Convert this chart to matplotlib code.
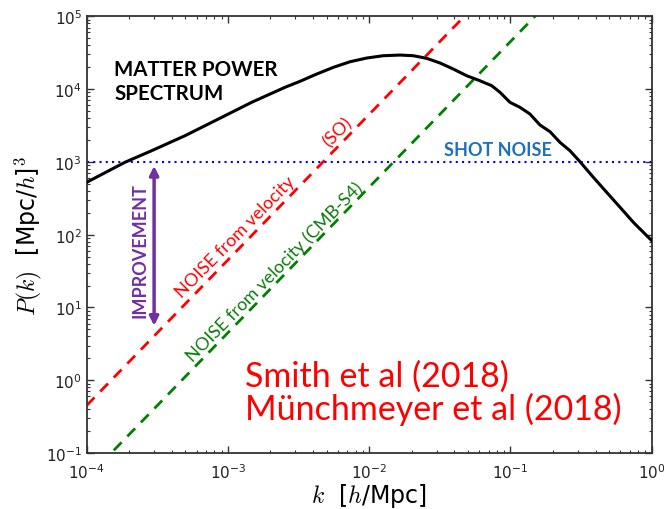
import matplotlib
matplotlib.use("Agg")
import matplotlib.pyplot as plt
import numpy as np

plt.rcParams["mathtext.fontset"] = "cm"

# matter power spectrum (log10 k, log10 P)
logK = [-4.0, -3.729, -3.540, -3.304, -3.068, -2.832, -2.596, -2.490, -2.372,
        -2.254, -2.136, -2.018, -1.900, -1.782, -1.688, -1.593, -1.499, -1.405,
        -1.310, -1.216, -1.133, -1.074, -1.004, -0.933, -0.862, -0.791, -0.720,
        -0.650, -0.579, -0.508, -0.413, -0.319, -0.224, -0.130, -0.012, 0.0]
logP = [2.72, 2.995, 3.154, 3.360, 3.589, 3.819, 4.025, 4.107, 4.207,
        4.299, 4.376, 4.427, 4.459, 4.468, 4.459, 4.423, 4.359, 4.276,
        4.184, 4.115, 4.047, 3.956, 3.819, 3.750, 3.658, 3.507, 3.415,
        3.269, 3.154, 3.003, 2.788, 2.582, 2.376, 2.170, 1.941, 1.92]

# velocity noise lines (end points)
noiseK = [1e-4, 1.0]
noiseSO = [0.45, 4.5e7]
noiseS4 = [0.045, 4.5e6]
shotNoise = 1e3

purple = "#7030a0"
labelFont = ["Lato", "DejaVu Sans"]

fig = plt.figure(figsize=(6.64, 5.10), dpi=100)
ax = fig.add_axes([0.1306, 0.1098, 0.8509, 0.8562])

k = 10 ** np.array(logK)
pk = 10 ** np.array(logP)
ax.plot(k, pk, color="black", lw=2.2, zorder=3)
ax.plot(noiseK, noiseSO, color="red", lw=2, ls=(0, (4, 3)))
ax.plot(noiseK, noiseS4, color="green", lw=2, ls=(0, (4, 3)))
ax.axhline(shotNoise, color="blue", lw=1.5, ls=(0, (1, 2)))

ax.set_xscale("log")
ax.set_yscale("log")
ax.set_xlim(1e-4, 1)
ax.set_ylim(1e-1, 1e5)

ax.tick_params(which="both", direction="in", top=True, right=True,
               labelsize=11, labelcolor="#222222", colors="#333333")
ax.tick_params(which="major", length=5, width=1)
ax.tick_params(which="minor", length=2.5, width=0.8)
ax.tick_params(axis="x", pad=7)
for s in ax.spines.values():
    s.set_linewidth(1.3)
    s.set_color("#333333")

ax.set_xlabel(r"$k$  [$h$/Mpc]", fontsize=17, labelpad=0)
ax.set_ylabel(r"$P(k)$  [Mpc/$h$]$^3$", fontsize=17, labelpad=1)

ax.text(1.57e-4, 2.6e4, "MATTER POWER\nSPECTRUM", fontsize=14.8, fontweight="bold",
        family=labelFont, va="top", ha="left", linespacing=1.25)
ax.text(0.0813, 1500, "SHOT NOISE", fontsize=13, fontweight="bold", color="#1f6fbf",
        family=labelFont, ha="center", va="center")

ax.annotate("", xy=(3.0e-4, 5.6), xytext=(3.0e-4, 880),
            arrowprops=dict(arrowstyle="<|-|>", color=purple, lw=2.5,
                            mutation_scale=13, shrinkA=0, shrinkB=0))
ax.text(2.39e-4, 63, "IMPROVEMENT", fontsize=13, fontweight="bold", color=purple,
        family=labelFont, rotation=90, ha="center", va="center")

ax.text(1.12e-3, 96, "NOISE from velocity", fontsize=13, color="red",
        family=labelFont, rotation=45.5, ha="center", va="center", rotation_mode="anchor")
ax.text(6.0e-3, 2580, "(SO)", fontsize=13, color="red",
        family=labelFont, rotation=45.5, ha="center", va="center", rotation_mode="anchor")
ax.text(2.15e-3, 31.7, "NOISE from velocity (CMB-S4)", fontsize=13, color="#0b7a0b",
        family=labelFont, rotation=45.5, ha="center", va="center", rotation_mode="anchor")

ax.text(0.280, 0.154, "Smith et al (2018)", transform=ax.transAxes, fontsize=24.5,
        color="red", family=labelFont, ha="left", va="baseline")
ax.text(0.280, 0.078, "Münchmeyer et al (2018)", transform=ax.transAxes, fontsize=24.5,
        color="red", family=labelFont, ha="left", va="baseline")

fig.savefig("out.png", dpi=100)
plt.close(fig)
